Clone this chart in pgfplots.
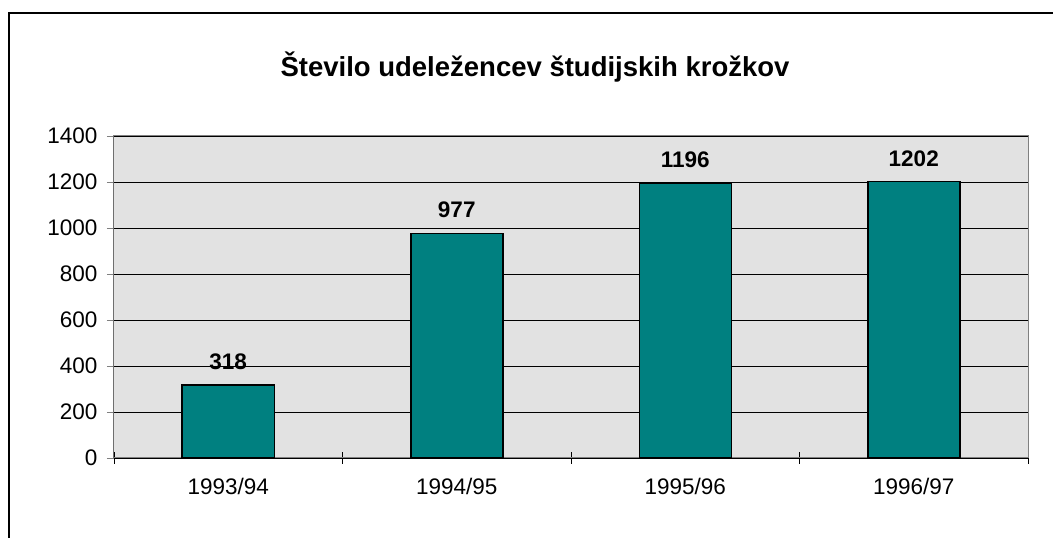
\documentclass[border=0pt]{standalone}
\usepackage{fontspec}
\setmainfont{Liberation Sans}
\usepackage{pgfplots}
\pgfplotsset{compat=1.18}
\definecolor{teal80}{RGB}{0,128,128}
\definecolor{plotgray}{RGB}{226,226,226}
\definecolor{framegray}{RGB}{128,128,128}

\begin{document}
\begin{tikzpicture}
\useasboundingbox (0,0) rectangle (1053pt,538pt);
% outer chart frame (only left and top edges are visible)
\draw[black, line width=1.6pt] (9pt,0) -- (9pt,525pt) -- (1060pt,525pt);
\node[font=\fontsize{27.5}{32}\selectfont\bfseries] at (535pt,471pt) {Število udeležencev študijskih krožkov};
\begin{axis}[
    at={(114pt,80pt)}, anchor=south west,
    scale only axis, width=914pt, height=322pt,
    xmin=0, xmax=4, ymin=0, ymax=1400,
    ytick={0,200,...,1400},
    xtick={0.5,1.5,2.5,3.5},
    xticklabels={1993/94, 1994/95, 1995/96, 1996/97},
    minor xtick={0,1,2,3,4},
    major x tick style={draw=none},
    minor x tick style={black, line width=0.6pt, yshift=6pt},
    minor tick length=12pt,
    major tick length=7pt,
    tick align=outside,
    xtick pos=bottom, ytick pos=left,
    ymajorgrids, grid style={black, line width=0.6pt},
    axis line style={framegray, line width=1pt},
    axis background/.style={fill=plotgray},
    tick label style={font=\fontsize{22.5}{26}\selectfont},
    yticklabel style={xshift=-6pt},
    xticklabel style={yshift=-10pt},
    /pgf/number format/assume math mode=true,
    /pgf/number format/1000 sep={},
    ybar, bar width=92pt,
    nodes near coords,
    every node near coord/.append style={font=\fontsize{22.5}{26}\selectfont\bfseries, yshift=11pt},
]
\addplot[fill=teal80, draw=black, line width=1.5pt] coordinates {
    (0.5,318) (1.5,977) (2.5,1196) (3.5,1202)
};
\draw[black, line width=1pt] (rel axis cs:0,0) -- (rel axis cs:0,1);
\end{axis}
\end{tikzpicture}
\end{document}
